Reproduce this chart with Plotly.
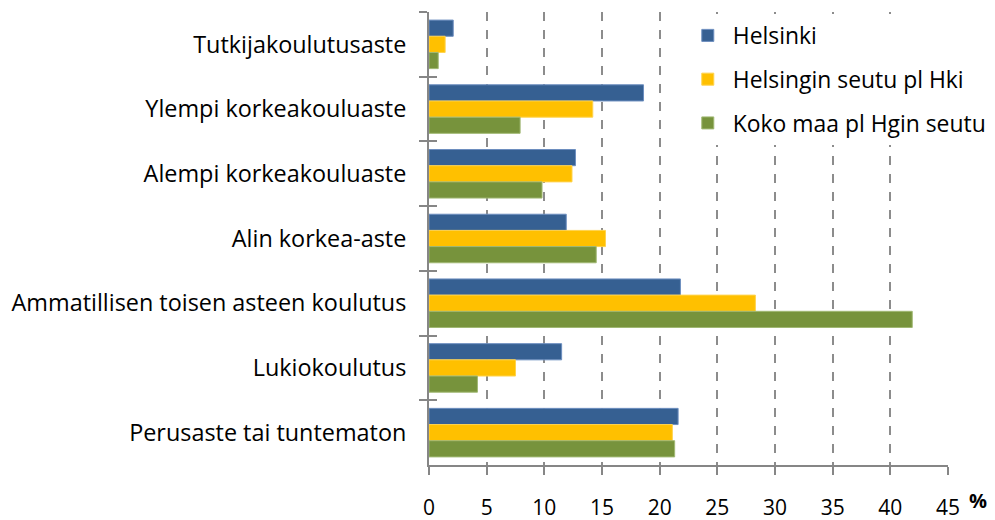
import plotly.graph_objects as go

categories = ["Tutkijakoulutusaste", "Ylempi korkeakouluaste", "Alempi korkeakouluaste",
              "Alin korkea-aste", "Ammatillisen toisen asteen koulutus", "Lukiokoulutus",
              "Perusaste tai tuntematon"]
series_names = ["Helsinki", "Helsingin seutu pl Hki", "Koko maa pl Hgin seutu"]
helsinki = [2.1, 18.6, 12.7, 11.9, 21.8, 11.5, 21.6]
seutu = [1.4, 14.2, 12.4, 15.3, 28.3, 7.5, 21.1]
koko_maa = [0.8, 7.9, 9.8, 14.5, 41.9, 4.2, 21.3]
x_ticks = [0, 5, 10, 15, 20, 25, 30, 35, 40, 45]

colors = ["#366092", "#FFC000", "#77933C"]
edges = ["#6C8EBF", "#FFD34D", "#A0B873"]
FONT = "Open Sans"

fig = go.Figure()
for i, (name, vals) in enumerate(zip(series_names, [helsinki, seutu, koko_maa])):
    fig.add_trace(go.Bar(
        y=categories, x=vals, name=name, orientation="h",
        marker=dict(color=colors[i], line=dict(color=edges[i], width=1)),
        legendgroup=f"g{i}",
    ))

# invisible trace carrying the categories on an overlay axis (inner half of crossing ticks)
fig.add_trace(go.Scatter(y=categories, x=[None] * len(categories), yaxis="y2",
                         mode="markers", showlegend=False, hoverinfo="skip"))

fig.update_layout(
    width=987, height=512,
    margin=dict(l=421, r=47, t=4, b=55),
    plot_bgcolor="white", paper_bgcolor="white",
    barmode="group", bargap=0.25, bargroupgap=0,
    font=dict(family=FONT, size=20, color="#000000"),
    legend=dict(x=0.489, y=0.9956, xanchor="left", yanchor="top",
                bgcolor="white", font=dict(size=22.9, family=FONT),
                traceorder="grouped", tracegroupgap=11,
                itemwidth=40),
    xaxis=dict(range=[0, 45], tickvals=x_ticks, ticktext=[str(v) for v in x_ticks],
               showgrid=True, gridcolor="#8C8C8C", griddash="dash", gridwidth=1.5,
               showline=True, linecolor="#868686", linewidth=2,
               ticks="outside", ticklen=8, tickcolor="#868686", tickwidth=2,
               ticklabelstandoff=15, tickfont=dict(size=21, family=FONT),
               zeroline=False, automargin=False),
    yaxis=dict(autorange="reversed", showline=True, linecolor="#868686", linewidth=2,
               ticks="outside", ticklen=8, tickcolor="#868686", tickwidth=2,
               tickson="boundaries", ticklabelstandoff=16,
               tickfont=dict(size=23.4, family=FONT), showgrid=False, automargin=False),
    yaxis2=dict(overlaying="y", matches="y", side="left", showline=False,
                ticks="inside", ticklen=8, tickcolor="#868686", tickwidth=2,
                tickson="boundaries", showticklabels=False, showgrid=False),
)

fig.add_annotation(text="<b>%</b>", xref="paper", yref="paper", x=1.058, y=-0.078,
                   xanchor="center", yanchor="middle", showarrow=False,
                   font=dict(size=20, family=FONT))

fig.write_html("out.html")
